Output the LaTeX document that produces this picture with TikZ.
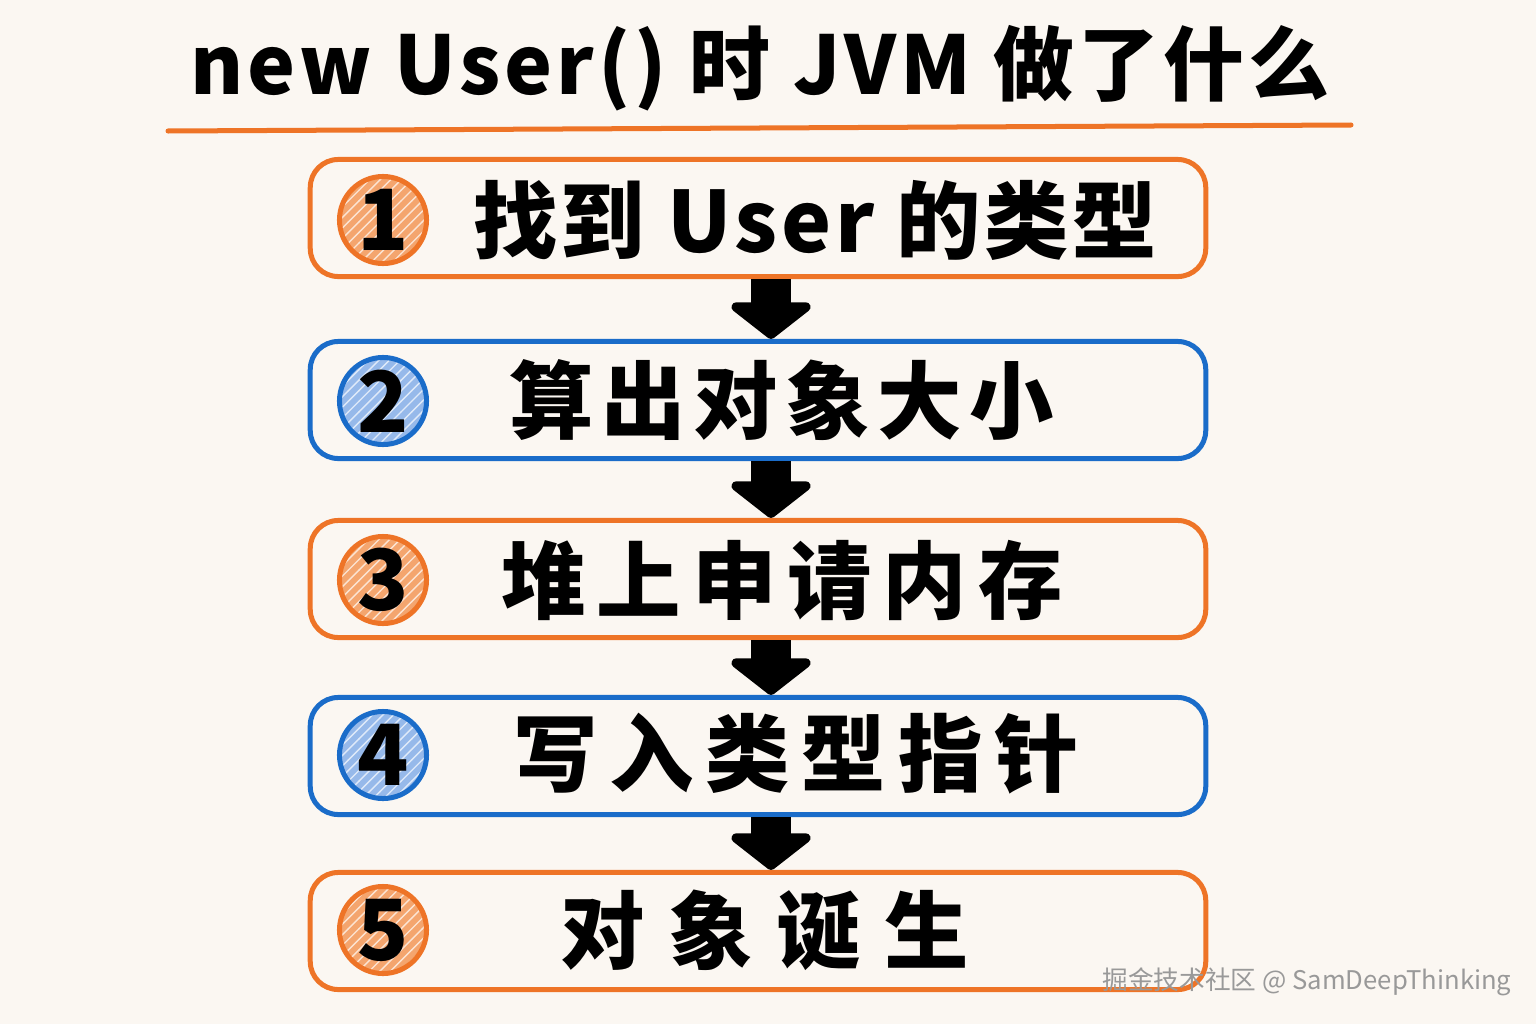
\documentclass[tikz,border=0pt]{standalone}
\usepackage{fontspec}
\setmainfont{Noto Sans CJK SC}
\usetikzlibrary{arrows.meta,patterns}

\definecolor{paper}{HTML}{FBF7F2}
\definecolor{orangeline}{HTML}{EE7427}
\definecolor{orangefill}{HTML}{F4A56E}
\definecolor{blueline}{HTML}{1A6CC9}
\definecolor{bluefill}{HTML}{96B9EA}

\newcommand{\spaced}[2]{{\addfontfeature{LetterSpace=#1}#2}}

\begin{document}
\begin{tikzpicture}[
      x=0.01cm,
      y=-0.01cm,
      stepbox/.style={draw, line width=0.05cm, rounded corners=0.28cm,
        minimum width=8.95cm, minimum height=1.17cm},
      orangebox/.style={stepbox, draw=orangeline},
      bluebox/.style={stepbox, draw=blueline},
      badge/.style={circle, line width=0.05cm, minimum size=0.87cm, inner sep=0pt,
        font=\fontsize{24}{24}\selectfont\bfseries},
      orangebadge/.style={badge, draw=orangeline,
        preaction={fill=orangefill}, pattern=north east lines, pattern color=white!70!orangefill},
      bluebadge/.style={badge, draw=blueline,
        preaction={fill=bluefill}, pattern=north east lines, pattern color=white!70!bluefill},
      steptext/.style={font=\fontsize{24}{29}\selectfont\bfseries},
      down/.style={-{Triangle[width=0.95cm, length=0.38cm, round]}, line width=0.4cm,
        line join=round}
    ]
    \fill[paper] (0,0) rectangle (1536,1024);
    \useasboundingbox (0,0) rectangle (1536,1024);

    \node[font=\fontsize{23}{28}\selectfont\bfseries] (title) at (760,68)
      {\spaced{5}{new User() 时 JVM 做了什么}};
    \coordinate (ulstart) at (168,131);
    \coordinate (ulend) at (1351,125);
    \draw[orangeline, line width=0.05cm, line cap=round] (ulstart) -- (ulend);

    \node[orangebox] (s1) at (758,218) {};
    \node[bluebox] (s2) at (758,400) {};
    \node[orangebox] (s3) at (758,579) {};
    \node[bluebox] (s4) at (758,756) {};
    \node[orangebox] (s5) at (758,931) {};

    \node[orangebadge] (n1) at (383,220) {1};
    \node[bluebadge] (n2) at (383,401) {2};
    \node[orangebadge] (n3) at (383,580) {3};
    \node[bluebadge] (n4) at (383,755) {4};
    \node[orangebadge] (n5) at (383,930) {5};

    \node[steptext] (t1) at (815,220) {\spaced{4}{找到 User 的类型}};
    \node[steptext] (t2) at (782,400) {\spaced{9}{算出对象大小}};
    \node[steptext] (t3) at (782,580) {\spaced{13}{堆上申请内存}};
    \node[steptext] (t4) at (796,754) {\spaced{14}{写入类型指针}};
    \node[steptext] (t5) at (765,930) {\spaced{28}{对象诞生}};

    \draw[down] ([xshift=0.13cm]s1.south) -- ([xshift=0.13cm]s2.north);
    \draw[down] ([xshift=0.13cm]s2.south) -- ([xshift=0.13cm]s3.north);
    \draw[down] ([xshift=0.13cm]s3.south) -- ([xshift=0.13cm]s4.north);
    \draw[down] ([xshift=0.13cm]s4.south) -- ([xshift=0.13cm]s5.north);

    \node[text=gray!80, font=\fontsize{7.3}{8}\selectfont] (mark) at (1307,982)
      {掘金技术社区 @ SamDeepThinking};
  \end{tikzpicture}
\end{document}
